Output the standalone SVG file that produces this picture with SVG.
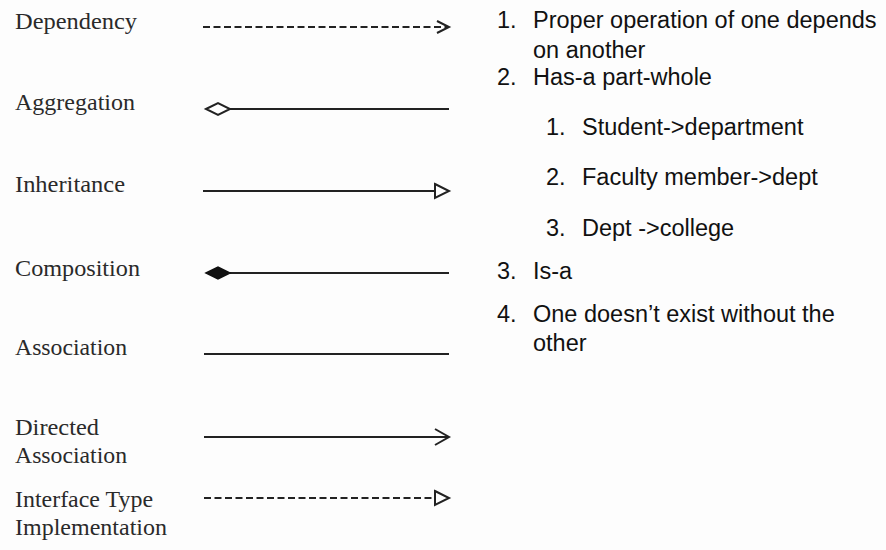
<svg xmlns="http://www.w3.org/2000/svg" width="886" height="550" viewBox="0 0 886 550">
  <style>
    .lbl { font-family: "Liberation Serif", "Times New Roman", serif; font-size: 23.5px; fill: #2a2a2a; }
    .txt { font-family: "Liberation Sans", Arial, sans-serif; font-size: 23.5px; fill: #111; }
    .ln { stroke: #222; stroke-width: 2; fill: none; }
    .dash { stroke-dasharray: 7 3.5; }
    .open { stroke: #222; stroke-width: 2; fill: #fff; stroke-linejoin: miter; }
    .solid { stroke: #111; stroke-width: 1.5; fill: #111; }
  </style>
  <rect width="886" height="550" fill="#fdfdfd"/>

  <!-- relationship names -->
  <g id="labels">
    <text class="lbl" x="15" y="29" textLength="122" lengthAdjust="spacingAndGlyphs">Dependency</text>
    <text class="lbl" x="15" y="110" textLength="120" lengthAdjust="spacingAndGlyphs">Aggregation</text>
    <text class="lbl" x="15" y="192" textLength="110" lengthAdjust="spacingAndGlyphs">Inheritance</text>
    <text class="lbl" x="15" y="276" textLength="125" lengthAdjust="spacingAndGlyphs">Composition</text>
    <text class="lbl" x="15" y="355" textLength="112" lengthAdjust="spacingAndGlyphs">Association</text>
    <text class="lbl" x="15" y="435" textLength="84" lengthAdjust="spacingAndGlyphs">Directed</text>
    <text class="lbl" x="15" y="463" textLength="112" lengthAdjust="spacingAndGlyphs">Association</text>
    <text class="lbl" x="15" y="507" textLength="138" lengthAdjust="spacingAndGlyphs">Interface Type</text>
    <text class="lbl" x="15" y="535" textLength="152" lengthAdjust="spacingAndGlyphs">Implementation</text>
  </g>

  <!-- notation samples -->
  <g id="connectors">
    <g id="dependency">
      <line class="ln dash" x1="203" y1="27" x2="447" y2="27"/>
      <polyline class="ln" points="437,21 449,27 437,33"/>
    </g>
    <g id="aggregation">
      <line class="ln" x1="230" y1="109" x2="449" y2="109"/>
      <polygon class="open" points="206,109 218,103 230,109 218,115"/>
    </g>
    <g id="inheritance">
      <line class="ln" x1="203" y1="191" x2="435" y2="191"/>
      <polygon class="open" points="435,184 449,191 435,198"/>
    </g>
    <g id="composition">
      <line class="ln" x1="230" y1="273" x2="449" y2="273"/>
      <polygon class="solid" points="206,273 218,267 230,273 218,279"/>
    </g>
    <g id="association">
      <line class="ln" x1="204" y1="354" x2="449" y2="354"/>
    </g>
    <g id="directed-association">
      <line class="ln" x1="204" y1="437" x2="448" y2="437"/>
      <polyline class="ln" points="435,429 449,437 435,445"/>
    </g>
    <g id="interface-implementation">
      <line class="ln dash" x1="204" y1="498" x2="434" y2="498"/>
      <polygon class="open" points="435,491 449,498 435,505"/>
    </g>
  </g>

  <!-- explanations -->
  <g id="notes">
    <text class="txt" x="497" y="28">1.</text>
    <text class="txt" x="533" y="28">Proper operation of one depends</text>
    <text class="txt" x="533" y="58">on another</text>
    <text class="txt" x="497" y="85">2.</text>
    <text class="txt" x="533" y="85">Has-a part-whole</text>
    <text class="txt" x="546" y="135">1.</text>
    <text class="txt" x="582" y="135">Student-&gt;department</text>
    <text class="txt" x="546" y="185">2.</text>
    <text class="txt" x="582" y="185">Faculty member-&gt;dept</text>
    <text class="txt" x="546" y="236">3.</text>
    <text class="txt" x="582" y="236">Dept -&gt;college</text>
    <text class="txt" x="497" y="279">3.</text>
    <text class="txt" x="533" y="279">Is-a</text>
    <text class="txt" x="497" y="322">4.</text>
    <text class="txt" x="533" y="322">One doesn’t exist without the</text>
    <text class="txt" x="533" y="351">other</text>
  </g>
</svg>
